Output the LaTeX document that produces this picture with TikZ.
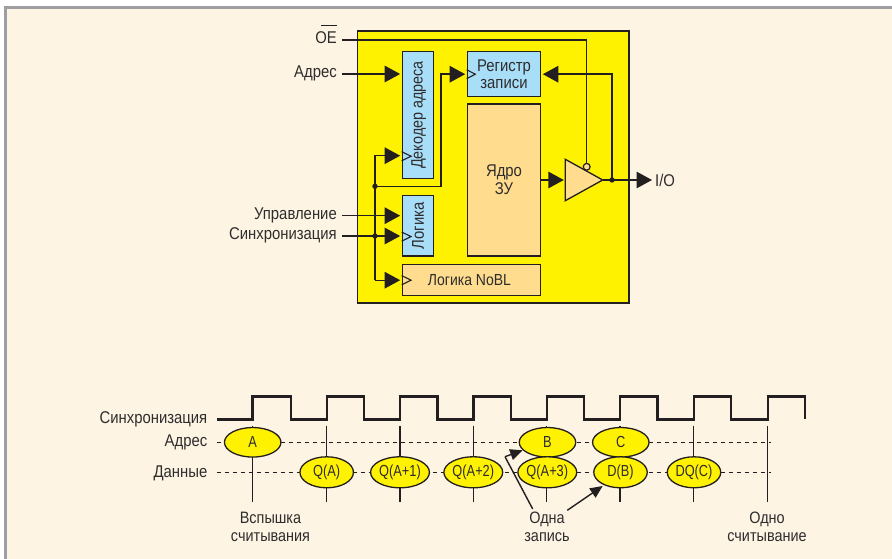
\documentclass[tikz,border=0pt]{standalone}
\usepackage{fontspec}
\setmainfont[FakeStretch=0.875]{Liberation Sans}
\newfontfamily\narrowfont[FakeStretch=0.8]{Liberation Sans}
\usetikzlibrary{arrows.meta,shapes.geometric,calc}
\definecolor{cream}{HTML}{FDF4E3}
\definecolor{band}{HTML}{9D9FA2}
\definecolor{chipyel}{HTML}{FFF200}
\definecolor{lblue}{HTML}{A9DEF9}
\definecolor{lorange}{HTML}{FFDC8E}
\definecolor{ink}{HTML}{231F20}
\definecolor{txt}{HTML}{2E2C2D}
\tikzset{
  x=1pt,y=-1pt,
  every node/.style={text=txt,font=\fontsize{17}{17.7}\selectfont},
  box/.style={draw=ink,line width=1.3pt,inner sep=0pt,align=center},
  bluebox/.style={box,fill=lblue},
  orangebox/.style={box,fill=lorange},
  lab/.style={anchor=east,inner xsep=5pt,inner ysep=0pt,text height=12pt,text depth=4pt},
  rlab/.style={anchor=east,inner xsep=0pt,inner ysep=0pt,text height=12pt,text depth=4pt},
  captxt/.style={align=center,inner sep=0pt,font=\fontsize{16.5}{17.7}\selectfont},
  wire/.style={draw=ink,line width=1.4pt},
  ar/.style={wire,-{Triangle[length=15.5pt,width=16.5pt]},shorten >=1.5pt},
  thinarrow/.style={wire,-{Triangle[length=12.5pt,width=11pt]}},
  jdot/.style={circle,fill=ink,inner sep=0pt,minimum size=5.4pt},
  clk/.style={draw=ink,line width=1.1pt,fill=none},
  ell/.style={ellipse,draw=ink,line width=1.3pt,fill=chipyel,inner sep=0pt,font=\narrowfont\fontsize{16}{17}\selectfont},
  addr/.style={ell,minimum width=56.5pt,minimum height=29.5pt},
  dat/.style={ell,minimum width=53.5pt,minimum height=31pt},
  tickline/.style={draw=ink,line width=1.3pt},
  dashline/.style={draw=ink,line width=1.3pt,dash pattern=on 4.5pt off 3.5pt},
}
\begin{document}
\begin{tikzpicture}
\useasboundingbox (0,0) rectangle (892,559);
\fill[white] (0,0) rectangle (892,559);
\fill[band] (4,6) rectangle (892,559);
\fill[cream] (6.5,8.7) rectangle (892,559);

% chip
\node[box,fill=chipyel,minimum width=271.7pt,minimum height=272pt] (chip) at (493.2,167) {};
\node[bluebox,minimum width=31.4pt,minimum height=126.6pt] (dec) at (418,115) {\hspace{1.5pt}\rotatebox{90}{\fontsize{16.4}{17}\selectfont Декодер адреса}};
\node[bluebox,minimum width=31.4pt,minimum height=60.7pt] (logic) at (418,225.6) {\rotatebox{90}{Логика}};
\node[orangebox,minimum width=138.4pt,minimum height=31pt] (nobl) at (471.5,280.2) {\hspace{-4pt}\fontsize{16}{17}\selectfont Логика NoBL};
\node[bluebox,minimum width=73.4pt,minimum height=45pt] (reg) at (504,74.2) {Регистр\\записи};
\node[orangebox,minimum width=73.4pt,minimum height=152pt] (core) at (504,180) {Ядро\\ЗУ};

% driver
\coordinate (tA) at (565.3,159.3);
\coordinate (tB) at (565.3,200.7);
\coordinate (tC) at (602.7,180);
\filldraw[fill=lorange,draw=ink,line width=1.3pt] (tA) -- (tC) -- (tB) -- cycle;
\node[circle,draw=ink,line width=1.2pt,fill=lorange,inner sep=0pt,minimum size=6.8pt] (bub) at (586.7,166.8) {};

% clock marks
\draw[clk] ($(dec.south west)+(0,-27.3)$) -- ++(9.4,4.6) -- ++(-9.4,4.6);
\draw[clk] ($(logic.south west)+(0,-24.6)$) -- ++(9.4,4.6) -- ++(-9.4,4.6);
\draw[clk] ($(nobl.west)+(0,-4.6)$) -- ++(9.4,4.6) -- ++(-9.4,4.6);
\draw[clk] ($(reg.west)+(0,-4.4)$) -- ++(8.7,4.4) -- ++(-8.7,4.4);

% input labels
\node[lab] (oe) at (342,40) {OE};
\draw[draw=ink,line width=1.1pt] (321.3,25.7) -- (337,25.7);
\node[lab] (ladr) at (342,74) {Адрес};
\node[lab] (lupr) at (342,215.7) {Управление};
\node[lab] (lsyn) at (342,236) {Синхронизация};
\node[anchor=west,inner sep=0pt] (lio) at (655,180) {I/O};

% connectors
\draw[wire] (oe.east) -| (bub.north);
\draw[ar] (ladr.east) -- (ladr.east -| dec.west);
\draw[ar] (lupr.east) -- (lupr.east -| logic.west);
\draw[ar] (lsyn.east) -- (lsyn.east -| logic.west);
\coordinate (bus) at (375,236);
\coordinate (busT) at (375,155.7);
\coordinate (busB) at (375,280.2);
\coordinate (j1) at (375,186.3);
\coordinate (j2) at (441,74.2);
\draw[ar] (busB) |- (busT) -- (busT -| dec.west);
\draw[ar] (busB) -- (busB -| nobl.west);
\draw[ar] (j1) -| (j2) -- (j2 -| reg.west);
\node[jdot] at (j1) {};
\node[jdot] at (bus) {};
\draw[ar] (core.east) -- (core.east -| tA);
\coordinate (j3) at (612,180);
\draw[wire,-{Triangle[length=15.5pt,width=16.5pt]},shorten >=3pt] (tC) -- (lio.west);
\draw[ar] (j3) |- (reg.east);
\node[jdot] at (j3) {};

% timing labels
\node[rlab] (tsyn) at (207.5,419) {Синхронизация};
\node[rlab] (tadr) at (207.5,442) {Адрес};
\node[rlab] (tdat) at (207.5,473) {Данные};

% timing wave
\draw[draw=ink,line width=2.4pt,line join=miter]
  (216.7,419.3) -- (252.3,419.3) -- (252.3,396.3) -- (290.7,396.3) -- (290.7,419.3)
  -- (326.7,419.3) -- (326.7,396.3) -- (364,396.3) -- (364,419.3)
  -- (400,419.3) -- (400,396.3) -- (437.3,396.3) -- (437.3,419.3)
  -- (473.3,419.3) -- (473.3,396.3) -- (510.7,396.3) -- (510.7,419.3)
  -- (546.7,419.3) -- (546.7,396.3) -- (584,396.3) -- (584,419.3)
  -- (620,419.3) -- (620,396.3) -- (657.3,396.3) -- (657.3,419.3)
  -- (693.7,419.3) -- (693.7,396.3) -- (730.7,396.3) -- (730.7,419.3)
  -- (767.7,419.3) -- (767.7,396.3) -- (805,396.3) -- (805,419.3);

% ticks and dashed lines
\foreach \x in {252.7,326.7,400,473.3,546.7,620,693.7,767.7}
  \draw[tickline] (\x,425.7) -- (\x,502.3);
\coordinate (aEnd) at (771,442.3);
\coordinate (dEnd) at (771,472.3);
\draw[dashline] (tadr.east |- aEnd) ++(9,0) -- (aEnd);
\draw[dashline] (tdat.east |- dEnd) ++(9,0) -- (dEnd);

% ellipses
\node[addr] (eA) at (252.7,442.3) {A};
\node[addr] (eB) at (547.5,442.3) {B};
\node[addr] (eC) at (620.8,442.3) {C};
\node[dat] (q0) at (326.7,472.3) {Q(A)};
\node[dat] (q1) at (400,472.3) {Q(A+1)};
\node[dat] (q2) at (473.3,472.3) {Q(A+2)};
\node[dat] (q3) at (547.3,472.3) {Q(A+3)};
\node[dat] (db) at (620.5,472.3) {D(B)};
\node[dat] (dq) at (694,472.3) {DQ(C)};

% captions
\node[captxt] (c1) at (270.5,526.7) {Вспышка\\считывания};
\node[captxt] (c2) at (547,526.7) {Одна\\запись};
\node[captxt] (c3) at (767,526.7) {Одно\\считывание};

% write arrows
\coordinate (bend) at (505,456.7);
\coordinate (tipB) at (522.7,450.3);
\coordinate (tipD) at (602.7,486);
\coordinate (ca) at (532.7,509);
\coordinate (cb) at (567.3,510.3);
\draw[wire] (ca) -- (bend);
\draw[thinarrow] (bend) -- (tipB);
\draw[thinarrow] (cb) -- (tipD);
\end{tikzpicture}
\end{document}
